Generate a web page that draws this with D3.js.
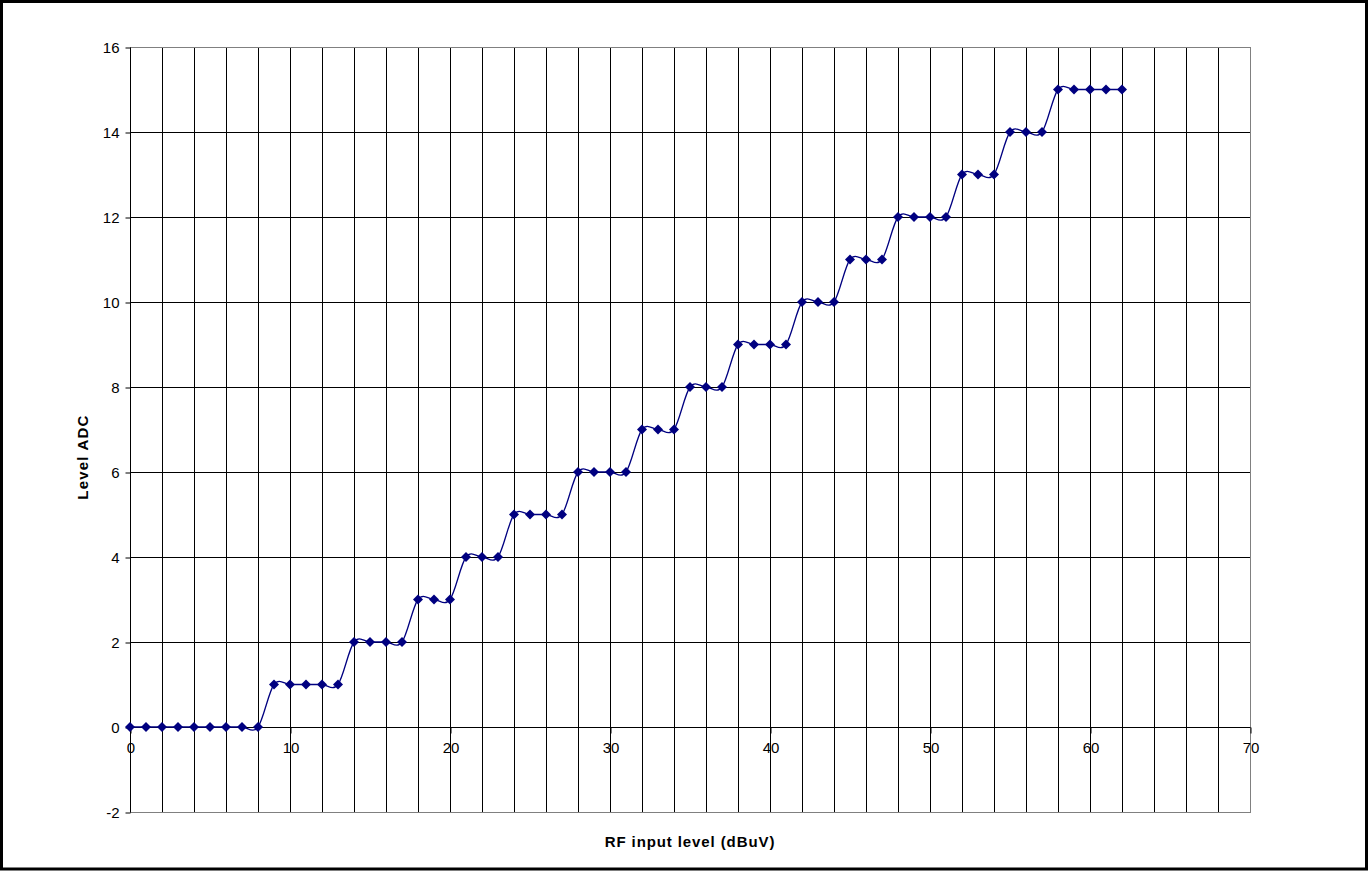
<!DOCTYPE html>
<html><head><meta charset="utf-8">
<script src="https://cdn.jsdelivr.net/npm/d3@7"></script>
<style>html,body{margin:0;padding:0;background:#fff;}svg{display:block;}</style>
</head><body>
<script>
const xValues = d3.range(0, 63);
const levelValues = [0,0,0,0,0,0,0,0,0, 1,1,1,1,1, 2,2,2,2, 3,3,3, 4,4,4, 5,5,5,5, 6,6,6,6, 7,7,7, 8,8,8, 9,9,9,9, 10,10,10, 11,11,11, 12,12,12,12, 13,13,13, 14,14,14, 15,15,15,15,15];
const xTicks = [0,10,20,30,40,50,60,70];
const yTicks = [-2,0,2,4,6,8,10,12,14,16];
const xGrid = d3.range(2, 70, 2);

const W = 1369, H = 872;
const svg = d3.select("body").append("svg").attr("width", W).attr("height", H);
svg.append("rect").attr("x",1.5).attr("y",1.5).attr("width",W-4).attr("height",H-4.5).attr("fill","#fff").attr("stroke","#000").attr("stroke-width",3);

const L=130, R=1250, T=47, B=812;
const x = d3.scaleLinear().domain([0,70]).range([L,R]);
const y = d3.scaleLinear().domain([-2,16]).range([B,T]);
const font = "'Liberation Sans', Arial, sans-serif";
const fmt = d => String(d);

// grid
svg.append("g").selectAll("line").data(xGrid).join("line")
  .attr("x1",d=>Math.round(x(d))+0.5).attr("x2",d=>Math.round(x(d))+0.5)
  .attr("y1",T).attr("y2",B).attr("stroke","#000").attr("stroke-width",1);
svg.append("g").selectAll("line").data(yTicks.filter(d=>d>-2&&d<16)).join("line")
  .attr("x1",L).attr("x2",R).attr("y1",d=>Math.round(y(d))+0.5).attr("y2",d=>Math.round(y(d))+0.5)
  .attr("stroke","#000").attr("stroke-width",1);
// plot border (gray)
svg.append("rect").attr("x",L+0.5).attr("y",T+0.5).attr("width",R-L).attr("height",B-T)
  .attr("fill","none").attr("stroke","#808080").attr("stroke-width",1);
// y axis
const yAxis = svg.append("g").attr("transform",`translate(${L+0.5},0.5)`)
  .call(d3.axisLeft(y).tickValues(yTicks).tickSize(5).tickPadding(6).tickFormat(fmt));
yAxis.select(".domain").attr("stroke","#000").attr("d",`M0,${T}V${B}`);
yAxis.selectAll("text").attr("font-family",font).attr("font-size",15).attr("fill","#000");
// x axis at y=0
const xAxis = svg.append("g").attr("transform",`translate(0.5,${Math.round(y(0))+0.5})`)
  .call(d3.axisBottom(x).tickValues(xTicks).tickSize(6).tickPadding(9).tickFormat(fmt));
xAxis.select(".domain").attr("stroke","#000").attr("d",`M${L},0H${R}`);
xAxis.selectAll("text").attr("font-family",font).attr("font-size",15).attr("fill","#000");

// line
const data = xValues.map((v,i)=>({x:v,y:levelValues[i]}));
svg.append("path").datum(data)
  .attr("d", d3.line().x(d=>x(d.x)).y(d=>y(d.y)).curve(d3.curveCardinal.tension(0)))
  .attr("fill","none").attr("stroke","#000080").attr("stroke-width",1.3);
svg.append("g").selectAll("path").data(data).join("path")
  .attr("transform",d=>`translate(${x(d.x)},${y(d.y)})`)
  .attr("d","M0,-5L5,0L0,5L-5,0Z").attr("fill","#000080");

// titles
svg.append("text").attr("x",690).attr("y",847).attr("text-anchor","middle")
  .attr("font-family",font).attr("font-size",15).attr("font-weight","bold")
  .attr("letter-spacing","0.9px").text("RF input level (dBuV)");
svg.append("text").attr("transform",`translate(88,457) rotate(-90)`).attr("text-anchor","middle")
  .attr("font-family",font).attr("font-size",15).attr("font-weight","bold")
  .attr("letter-spacing","1.2px").text("Level ADC");
</script>
</body></html>
